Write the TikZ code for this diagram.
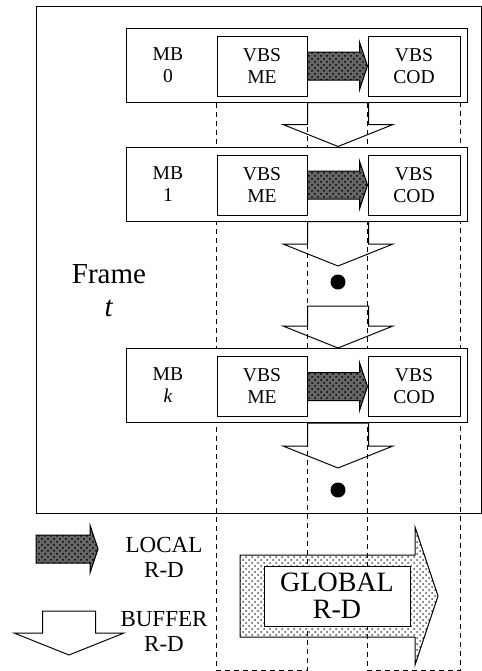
\documentclass[tikz,border=0pt]{standalone}
\usepackage{fontspec}
\setmainfont{Liberation Serif}
\usetikzlibrary{positioning, calc, patterns, backgrounds}

% open buffer arrow: shaft top (y only), tip; optional half shaft width
\newcommand{\bufarrow}[3][15.25pt]{%
\draw[bufrd] let \p1 = #2, \p2 = #3 in
(\x2-#1,\y1) -- (\x2-#1,\y2+11pt) -- (\x2-27.5pt,\y2+11pt) -- (\x2,\y2)
-- (\x2+27.5pt,\y2+11pt) -- (\x2+#1,\y2+11pt) -- (\x2+#1,\y1) -- cycle;}

% hatched local arrow from tail to head
\newcommand{\localarrow}[2]{%
\path[localrd] let \p1 = #1, \p2 = #2 in
(\x1,\y1+7pt) -- (\x2-4pt,\y1+7pt) -- (\x2-4pt,\y1+12pt) -- (\x2,\y1)
-- (\x2-4pt,\y1-12pt) -- (\x2-4pt,\y1-7pt) -- (\x1,\y1-7pt) -- cycle;}

\begin{document}
\begin{tikzpicture}[
    x = 0.5pt, y = -0.5pt, % pixel grid of the scan
    line width = 0.5pt,
    node distance = 8pt,
    txt/.style = {align=center, inner sep=0pt, font=\fontsize{9.8}{11}\selectfont},
    legtxt/.style = {align=center, inner sep=0pt, font=\fontsize{11.5}{12.5}\selectfont},
    bigtxt/.style = {inner sep=0pt, font=\fontsize{14.5}{16}\selectfont},
    rowbox/.style = {draw, fill=white, inner sep=0pt, minimum width=170.5pt, minimum height=37pt},
    vbsbox/.style = {txt, draw, fill=white, minimum height=30pt},
    localrd/.style = {draw, fill=black!60, postaction={pattern=crosshatch dots, pattern color=black}},
    globalrd/.style = {draw, pattern=crosshatch dots, pattern color=black!70},
    bufrd/.style = {draw},
    guide/.style = {dash pattern=on 2.5pt off 2pt},
    dotnode/.style = {circle, fill=black, inner sep=0pt, minimum size=7.5pt}
]
\useasboundingbox (0,0) rectangle (482,671);

\coordinate (base) at (0,670);

% frame t
\draw (36,6) rectangle (481,513);
\node[bigtxt] (framelbl) at (109,274) {Frame};
\node[bigtxt] (framet) [below=of framelbl] {\textit{t}};

% macroblock rows
\foreach \r/\ry/\lbl in {0/65/0, 1/184/1, k/385.5/\textit{k}} {
\node[rowbox] (mb\r) at (296.5,\ry) {};
\node[txt] (mbl\r) at (168,\ry) {MB\\\lbl};
\node[vbsbox, minimum width=45pt] (me\r) at (262,\ry+1) {VBS\\ME};
\node[vbsbox, minimum width=46pt] (cod\r) at (414,\ry+1) {VBS\\COD};
\localarrow{(me\r.east)}{(cod\r.west)}
}

% column guides
\begin{scope}[on background layer]
\foreach \c in {me0, cod0}
\draw[guide] (\c.west |- mb0.south) -- (\c.west |- base)
-- (\c.east |- base) -- (\c.east |- mb0.south);
\end{scope}

\node[dotnode] (dot1) at (338,282) {};
\node[dotnode] (dot2) at (338,490) {};

\bufarrow{(mb0.south)}{(mb1.north -| dot1)}
\bufarrow{(mb1.south)}{($(dot1.north)+(0,4pt)$)}
\bufarrow{($(dot1.south)+(0,-8pt)$)}{(mbk.north -| dot1)}
\bufarrow{(mbk.south)}{($(dot2.north)+(0,7pt)$)}

% legend
\coordinate (loctail) at (36,549);
\coordinate (lochead) at (98,549);
\localarrow{(loctail)}{(lochead)}
\node[legtxt] (loclbl) at (164,557) {LOCAL\\R-D};

\coordinate (bufshaft) at (69,611);
\coordinate (buftip) at (69,655);
\bufarrow[13.25pt]{(bufshaft)}{(buftip)}
\node[legtxt] (buflbl) at (164,631) {BUFFER\\R-D};

% global R-D
\path[globalrd] (240,555) -- (415,555) -- (415,527) -- (438,596)
-- (415,665) -- (415,637) -- (240,637) -- cycle;
\node[draw, fill=white, align=center, inner sep=0pt, minimum width=73pt,
minimum height=30pt, font=\fontsize{14}{13.5}\selectfont] (globalbox)
at (337,596) {GLOBAL\\R-D};
\end{tikzpicture}
\end{document}
